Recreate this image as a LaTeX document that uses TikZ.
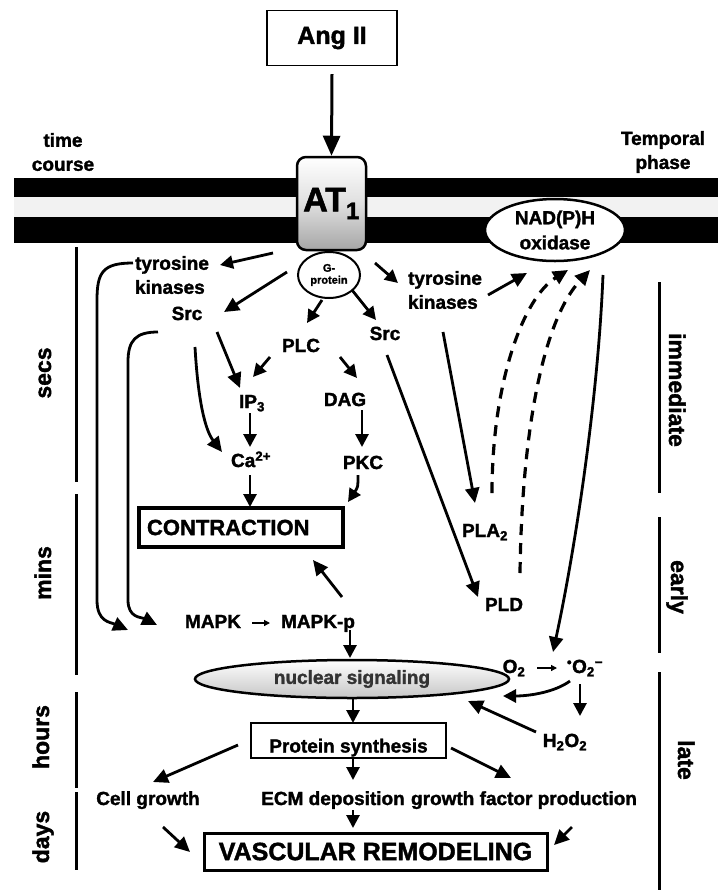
\documentclass[tikz,border=0pt]{standalone}
\usepackage{fontspec}
\setmainfont{Liberation Sans}[BoldFeatures={FakeBold=1.6}]
\usetikzlibrary{arrows.meta,shapes.geometric}

\begin{document}
\begin{tikzpicture}[x=1pt,y=-1pt,
  lbl/.style={font=\bfseries\fontsize{19}{24}\selectfont, inner sep=0pt, align=center},
  t/.style={lbl, text height=14pt, text depth=4pt},
  side/.style={font=\bfseries\fontsize{23}{26}\selectfont, inner sep=0pt, text height=17pt, text depth=5pt},
  arr/.style={line width=2.8pt, -{Triangle[length=15pt,width=14pt]}},
  sarr/.style={line width=2.8pt, -{Triangle[length=13pt,width=13pt]}},
  dasharr/.style={line width=3.2pt, dash pattern=on 11pt off 8pt, -{Triangle[length=15pt,width=14pt]}},
  tiny/.style={line width=1.3pt, -{Triangle[length=6pt,width=6pt]}},
  tl/.style={line width=3pt}
]
\useasboundingbox (0,0) rectangle (718,892);
\fill[white] (0,0) rectangle (718,892);

% cell membrane (lipid bilayer)
\fill[black] (14,178) rectangle (718,243);
\fill[gray!10] (14,197) rectangle (718,217);

% time-course axis (left) and temporal phase axis (right)
\draw[tl] (76,247) -- (76,482);
\draw[tl] (76,494) -- (76,675);
\draw[tl] (76,692) -- (76,788);
\draw[tl] (76,792) -- (76,870);
\draw[tl] (659,282) -- (659,493);
\draw[tl] (659,517) -- (659,653);
\draw[tl] (659,672) -- (659,890);

\node[lbl] (tc) at (63,152) {time\\course};
\node[lbl] (tp) at (663,152) {Temporal\\phase};
\node[side, rotate=90] (secs) at (45,373) {secs};
\node[side, rotate=90] (mins) at (45,573) {mins};
\node[side, rotate=90] (hours) at (43,737) {hours};
\node[side, rotate=90] (days) at (43,837) {days};
\node[side, rotate=-90] (imm) at (675,390) {immediate};
\node[side, rotate=-90] (early) at (677,587) {early};
\node[side, rotate=-90] (late) at (684,760) {late};

% receptor, ligand and membrane enzymes
\node[draw, line width=1.2pt, minimum width=130pt, minimum height=55pt, inner sep=0pt,
      font=\bfseries\fontsize{25}{25}\selectfont] (ang) at (332,38) {Ang II};
\node[draw, line width=2.5pt, rounded corners=9pt, minimum width=69pt, minimum height=93pt,
      inner sep=0pt, top color=white, bottom color=gray!70, middle color=gray!25,
      font=\bfseries\fontsize{34}{34}\selectfont] (at1) at (331.5,203.5) {AT\textsubscript{1}};
\node[ellipse, draw, fill=white, line width=2.5pt, minimum width=140pt, minimum height=62pt,
      lbl, font=\bfseries\fontsize{19}{25}\selectfont] (nad) at (555,230) {NAD(P)H\\oxidase};
\node[ellipse, draw, fill=white, line width=2pt, minimum width=62pt, minimum height=46pt,
      inner sep=0pt, align=center, font=\bfseries\fontsize{11}{12}\selectfont] (gp) at (329,275) {G-\\protein};

% signalling intermediates
\node[lbl, align=left] (tkL) at (172,275) {tyrosine\\kinases};
\node[t] (srcL) at (187,315) {Src};
\node[t] (plc) at (301,347) {PLC};
\node[t] (srcR) at (385,335) {Src};
\node[lbl, align=left] (tkR) at (445,290) {tyrosine\\kinases};
\node[t] (ip3) at (252,403) {IP\textsubscript{3}};
\node[t] (dag) at (345,401) {DAG};
\node[t] (ca) at (251,462) {Ca\textsuperscript{2+}};
\node[t] (pkc) at (363,464) {PKC};
\node[draw, line width=4pt, text width=188pt, inner xsep=8pt, inner ysep=0pt, minimum height=39pt,
      align=left, font=\bfseries\fontsize{22}{22}\selectfont] (contr) at (241,527.5) {CONTRACTION};
\node[t] (pla2) at (485,532) {PLA\textsubscript{2}};
\node[t] (pld) at (504,606) {PLD};
\node[t] (mapk) at (213,623) {MAPK};
\node[t] (mapkp) at (318,623) {MAPK-p};
\node[t] (o2) at (514,668) {O\textsubscript{2}};
\node[t] (sup) at (585,668) {\textsuperscript{\textbullet}O\textsubscript{2}\textsuperscript{−}};
\node[ellipse, draw, line width=2.5pt, minimum width=314pt, minimum height=38pt, inner sep=0pt,
      top color=white, bottom color=gray!45, text=black!80,
      font=\bfseries\fontsize{19}{19}\selectfont] (nuc) at (352,679) {nuclear signaling};
\node[t] (h2o2) at (565,742) {H\textsubscript{2}O\textsubscript{2}};
\node[draw, line width=2pt, minimum width=195pt, minimum height=35pt, inner sep=0pt,
      text height=24pt, text depth=0pt, font=\bfseries\fontsize{19}{19}\selectfont] (prot) at (348.5,740.5) {Protein synthesis};
\node[t] (cell) at (148,800) {Cell growth};
\node[t] (ecm) at (333,800) {ECM deposition};
\node[t] (gfp) at (524,800) {growth factor production};
\node[draw, line width=3pt, minimum width=343pt, minimum height=37pt, inner sep=0pt,
      font=\bfseries\fontsize{25}{25}\selectfont] (vasc) at (375.5,851.5) {VASCULAR REMODELING};

% ligand binding
\draw[line width=3pt, -{Triangle[length=20pt,width=17pt]}] ([shift={(0,8)}]ang.south) -- (at1.north);

% receptor outputs
\draw[sarr] ([shift={(-56,-22)}]gp.center) -- ([shift={(48,-10)}]tkL.center);
\draw[arr] ([shift={(-42,-3)}]gp.center) -- ([shift={(37,-3)}]srcL.center);
\draw[sarr] ([shift={(-7,25)}]gp.center) -- ([shift={(6,-24)}]plc.center);
\draw[sarr] ([shift={(23,15)}]gp.center) -- ([shift={(-9,-15)}]srcR.center);
\draw[sarr] ([shift={(46,-12)}]gp.center) -- ([shift={(-47,-7)}]tkR.center);

% oxidase branch
\draw[arr] ([shift={(43,5)}]tkR.center) -- ([shift={(-28,43)}]nad.center);
\draw[arr] ([shift={(-2,42)}]tkR.center) -- ([shift={(-10,-29)}]pla2.center);
\draw[arr] ([shift={(2,20)}]srcR.center) -- ([shift={(-26,-9)}]pld.center);
\draw[dasharr] ([shift={(7,-39)}]pla2.center) .. controls +(0,-110) and +(-45,28) .. ([shift={(13,40)}]nad.center);
\draw[dasharr] ([shift={(16,-33)}]pld.center) .. controls +(2,-150) and +(-45,48) .. ([shift={(35,40)}]nad.center);
\draw[arr] ([shift={(48,45)}]nad.center) .. controls +(-5,125) and +(22,-102) .. ([shift={(-32,-16)}]sup.center);
\draw[tiny] ([shift={(23,0)}]o2.center) -- ([shift={(-28,0)}]sup.center);
\draw[sarr] ([shift={(-15,13)}]sup.center) .. controls +(-15,11) and +(27,0) .. ([shift={(151,17)}]nuc.center);
\draw[sarr] ([shift={(-5,16)}]sup.center) -- ([shift={(15,-26)}]h2o2.center);
\draw[arr] ([shift={(-29,-10)}]h2o2.center) -- ([shift={(116,22)}]nuc.center);

% PLC / Src branch to contraction
\draw[sarr] ([shift={(-31,10)}]plc.center) -- ([shift={(1,-26)}]ip3.center);
\draw[sarr] ([shift={(39,10)}]plc.center) -- ([shift={(12,-23)}]dag.center);
\draw[arr] ([shift={(30,17)}]srcL.center) -- ([shift={(-12,-15)}]ip3.center);
\draw[arr] ([shift={(8,32)}]srcL.center) .. controls +(3,53) and +(-17,-22) .. ([shift={(-29,-10)}]ca.center);
\draw[sarr] ([shift={(-2,10)}]ip3.center) -- ([shift={(-1,-15)}]ca.center);
\draw[sarr] ([shift={(17,9)}]dag.center) -- ([shift={(-1,-17)}]pkc.center);
\draw[sarr] ([shift={(-1,13)}]ca.center) -- ([shift={(9,-20.5)}]contr.center);
\draw[sarr] ([shift={(-5,11)}]pkc.center) .. controls +(0,12) .. ([shift={(107,-25.5)}]contr.center);

% MAPK pathway
\draw[arr] ([shift={(-39,-12)}]tkL.center) .. controls +(-30,0) and +(0,-28) .. ++(-36,37)
   -- ++(0,300) .. controls +(0,22) and +(-18,-8) .. ([shift={(-85,7)}]mapk.center);
\draw[arr] ([shift={(-29,17)}]srcL.center) .. controls +(-22,0) and +(0,-22) .. ++(-30,30)
   -- ++(0,238) .. controls +(0,18) and +(-16,-8) .. ([shift={(-56,2)}]mapk.center);
\draw[tiny] ([shift={(39,0)}]mapk.center) -- ([shift={(-48,0)}]mapkp.center);
\draw[arr] ([shift={(24,-26)}]mapkp.center) -- ([shift={(72,32.5)}]contr.center);
\draw[sarr] ([shift={(32,7)}]mapkp.center) -- ([shift={(-2,-21)}]nuc.center);

% late responses
\draw[sarr] ([shift={(1,19)}]nuc.center) -- ([shift={(4.5,-17.5)}]prot.center);
\draw[arr] ([shift={(-110.5,4.5)}]prot.center) -- ([shift={(5,-18)}]cell.center);
\draw[sarr] ([shift={(4.5,17.5)}]prot.center) -- ([shift={(20,-20)}]ecm.center);
\draw[arr] ([shift={(102.5,7.5)}]prot.center) -- ([shift={(-13,-22)}]gfp.center);
\draw[sarr] ([shift={(20,10)}]ecm.center) -- ([shift={(-22.5,-23.5)}]vasc.center);
\draw[arr] ([shift={(15,27)}]cell.center) -- ([shift={(-185.5,0.5)}]vasc.center);
\draw[arr] ([shift={(48,27)}]gfp.center) -- ([shift={(178.5,-6.5)}]vasc.center);
\end{tikzpicture}
\end{document}
